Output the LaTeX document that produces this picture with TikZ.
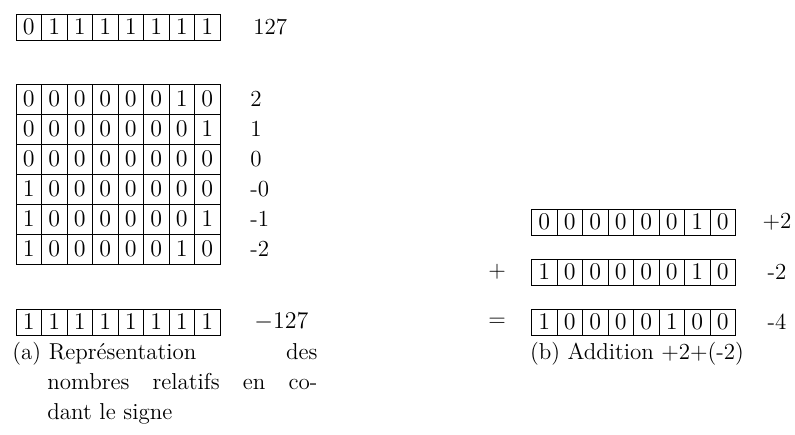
\documentclass[tikz,border=0pt]{standalone}
\usepackage{tikz}
\usetikzlibrary{positioning}
\tikzset{
    bit/.style={draw,line width=0.45pt,minimum width=12.75pt,minimum height=13pt,inner sep=0pt,anchor=west,font=\fontsize{12}{14}\selectfont},
    tbit/.style={bit,minimum height=15pt},
    val/.style={anchor=west,inner sep=0pt,font=\fontsize{11.5}{14}\selectfont},
    op/.style={inner sep=0pt,font=\fontsize{11.5}{14}\selectfont},
    capt/.style={inner sep=0pt,align=left,font=\fontsize{11.5}{15}\selectfont},
}
% #1 style, #2 name, #3 x, #4 y, #5 bits
\newcommand{\bitrow}[5][bit]{%
  \foreach \b [count=\i] in {#5}
    \node[#1] (#2-\i) at ({#3+25.5*(\i-1)},#4) {\b};
}

\begin{document}
\begin{tikzpicture}[x=0.5pt,y=-0.5pt]
\useasboundingbox (0,0) rectangle (795,434);
% (a) sign and magnitude
\bitrow{max}{15.5}{27}{0,1,1,1,1,1,1,1}
\node[val] (vmax) at (253,27) {127};
\bitrow[tbit]{pa}{15.5}{99}{0,0,0,0,0,0,1,0}
\bitrow[tbit]{pb}{15.5}{129}{0,0,0,0,0,0,0,1}
\bitrow[tbit]{pc}{15.5}{159}{0,0,0,0,0,0,0,0}
\bitrow[tbit]{nc}{15.5}{189}{1,0,0,0,0,0,0,0}
\bitrow[tbit]{nb}{15.5}{219}{1,0,0,0,0,0,0,1}
\bitrow[tbit]{na}{15.5}{249}{1,0,0,0,0,0,1,0}
\node[val] (vpa) at (250,99) {2};
\node[val] (vpb) at (250,129) {1};
\node[val] (vpc) at (250,159) {0};
\node[val] (vnc) at (250,189) {-0};
\node[val] (vnb) at (250,219) {-1};
\node[val] (vna) at (250,249) {-2};
\bitrow{min}{15.5}{322}{1,1,1,1,1,1,1,1}
\node[val] (vmin) at (254,322) {$-127$};
\node[capt,text width=152.5pt,anchor=base west] (capa) at (12,359)
  {(a)~Représentation\hfill des\\
   \hspace*{17.5pt}nombres\hfill relatifs\hfill en\hfill co-\\
   \hspace*{17.5pt}dant le signe};
% (b) addition
\bitrow{sa}{531}{222}{0,0,0,0,0,0,1,0}
\bitrow{sb}{531}{272}{1,0,0,0,0,0,1,0}
\bitrow{sr}{531}{322}{1,0,0,0,0,1,0,0}
\node[op] (vsa) at (777,222) {+2};
\node[op] (vsb) at (777,272) {-2};
\node[op] (vsr) at (777,322) {-4};
\node[op] (plus) at (497,272) {+};
\node[op] (eq) at (497,322) {=};
\node[capt,anchor=base] (capb) at (637,359) {(b) Addition +2+(-2)};
\end{tikzpicture}
\end{document}
